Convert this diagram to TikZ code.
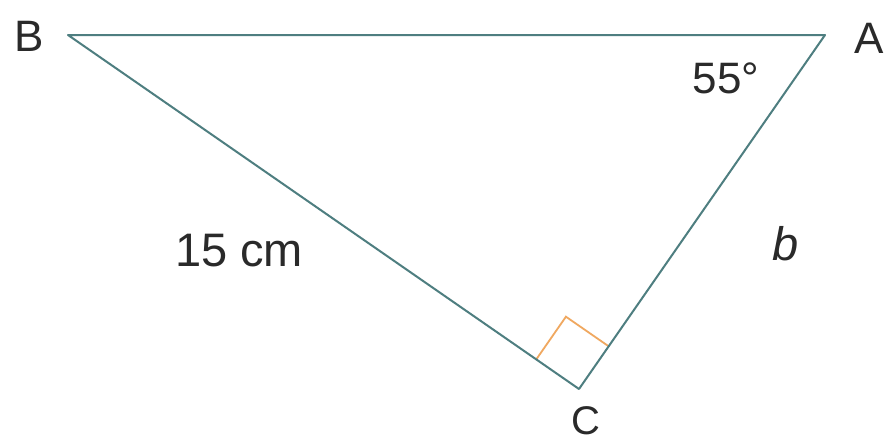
\documentclass[tikz,border=0pt]{standalone}
\usepackage{fontspec}
\setmainfont{Liberation Sans}
\usepackage{xcolor}
\definecolor{cEdge}{HTML}{4E7E80}
\definecolor{cMark}{HTML}{F0A860}
\definecolor{cText}{HTML}{2A2A2A}
\usetikzlibrary{calc}
\tikzset{
  edge/.style={draw=cEdge,line width=2pt,line join=round},
  mark-right/.style={draw=cMark,line width=1.8pt},
  lbl-vertex/.style={text=cText,inner sep=0pt,font=\fontsize{44}{48}\selectfont},
  lbl-side/.style={text=cText,inner sep=0pt,font=\fontsize{47}{51}\selectfont},
}

\begin{document}
\begin{tikzpicture}[x=1pt,y=-1pt]
  \useasboundingbox[fill=white] (0,0) rectangle (888,447);
  \coordinate (B) at (68,35);
  \coordinate (A) at (825,35);
  \coordinate (C) at (579,389);
  % right angle at C
  \coordinate (mB) at ($(C)!52pt!(B)$);
  \coordinate (mA) at ($(C)!52pt!(A)$);
  \coordinate (mK) at ($(mB)+(mA)-(C)$);
  \draw[mark-right] (mB) -- (mK) -- (mA);
  \draw[edge] (B) -- (A) -- (C) -- cycle;
  \node[lbl-vertex] (lB) at (29,36) {B};
  \node[lbl-vertex] (lA) at (869,38) {A};
  \node[lbl-vertex,font=\fontsize{40}{44}\selectfont] (lC) at (586,421) {C};
  \node[lbl-side,font=\fontsize{44}{48}\selectfont] (ang) at (726,78) {55°};
  \node[lbl-side] (hyp) at (239,251) {15 cm};
  \node[lbl-side,font=\fontsize{47}{51}\selectfont\itshape] (sb) at (786,244) {b};
\end{tikzpicture}
\end{document}
